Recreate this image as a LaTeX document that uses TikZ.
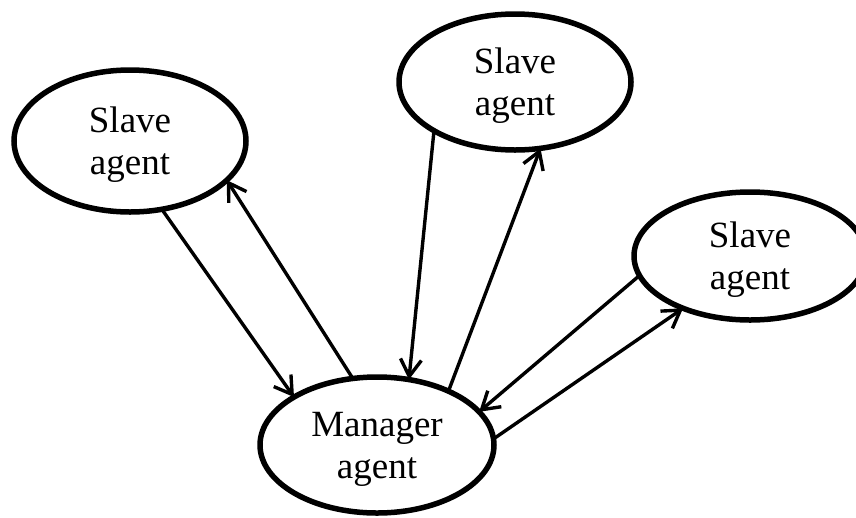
\documentclass[tikz,border=0pt]{standalone}
\usepackage{fontspec}
\setmainfont{Liberation Serif}
\usetikzlibrary{shapes.geometric,arrows.meta}
\begin{document}
\begin{tikzpicture}[x=1pt,y=-1pt,
  agent/.style={ellipse, draw, line width=5.5pt, inner sep=0pt, outer sep=0pt,
    align=center, text depth=0pt, font=\fontsize{37}{42}\selectfont},
  link/.style={line width=3.4pt, -{Straight Barb[length=17pt,width=21pt,line width=3.4pt]}}]
\useasboundingbox (0,0) rectangle (856,517);
\node[agent, minimum width=232pt, minimum height=142pt] (L) at (130,141) {Slave\\agent};
\node[agent, minimum width=232pt, minimum height=136pt] (T) at (515,82) {Slave\\agent};
\node[agent, minimum width=232pt, minimum height=128pt] (R) at (750,256) {Slave\\agent};
\node[agent, minimum width=234pt, minimum height=136pt] (M) at (377,445) {Manager\\agent};
\draw[link] (L.-65) -- (M.150);
\draw[link] (M.110) -- (L.-22);
\draw[link] (T.211) -- (M.64);
\draw[link] (M.37) -- (T.-69);
\draw[link] (R.190) -- (M.18);
\draw[link] (M.3) -- (R.218);
\end{tikzpicture}
\end{document}
